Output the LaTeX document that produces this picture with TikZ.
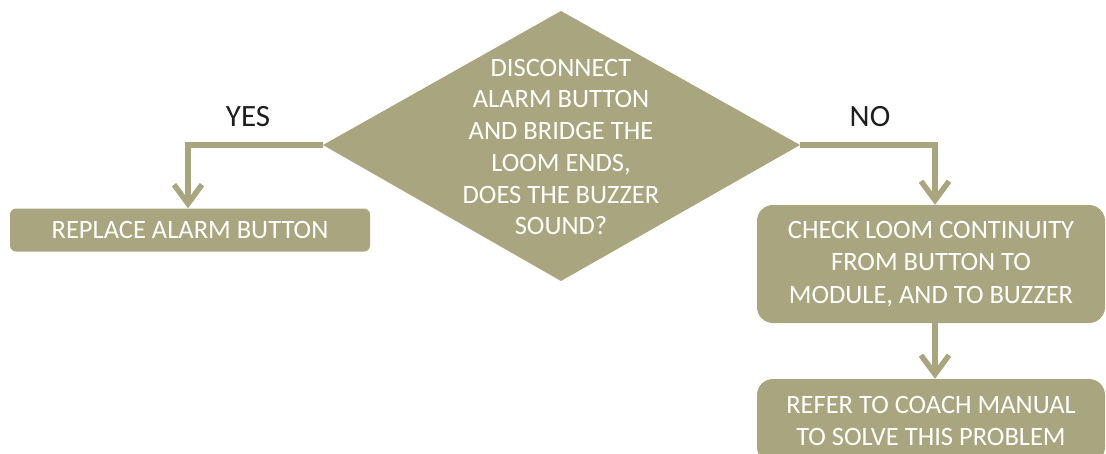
\documentclass[tikz,border=0pt]{standalone}
\usepackage{fontspec}
\setmainfont{Carlito}
\usetikzlibrary{arrows.meta}
\definecolor{olivebox}{RGB}{169,165,126}
\definecolor{labeltext}{RGB}{30,30,30}
\begin{document}
\begin{tikzpicture}[x=1pt,y=-1pt,
  box/.style={fill=olivebox, text=white, align=center, inner sep=0pt,
              font=\fontsize{26.5}{32.3}\selectfont},
  smallbox/.style={box, rounded corners=6pt},
  bigbox/.style={box, rounded corners=16pt},
  qtext/.style={text=white, align=center, inner sep=0pt, font=\fontsize{26.5}{31.7}\selectfont},
  conn/.style={draw=olivebox, line width=5.5pt,
               -{Straight Barb[length=19pt,width=28pt,line width=5.5pt]}},
  lbl/.style={text=labeltext, inner sep=0pt, font=\fontsize{31}{34}\selectfont}]
\useasboundingbox (0,0) rectangle (1106,453);
\clip (0,0) rectangle (1106,453);
% decision diamond
\coordinate (dT) at (561,11);
\coordinate (dR) at (800,145);
\coordinate (dB) at (561,281);
\coordinate (dL) at (323,145);
\fill[olivebox] (dT) -- (dR) -- (dB) -- (dL) -- cycle;
\node[qtext] (q) at (561,147) {DISCONNECT\\ALARM BUTTON\\AND BRIDGE THE\\LOOM ENDS,\\DOES THE BUZZER\\SOUND?};
% boxes
\node[smallbox, minimum width=360pt, minimum height=43pt] (rep) at (190,230) {REPLACE ALARM BUTTON};
\node[bigbox, minimum width=348pt, minimum height=118pt] (chk) at (931,264) {CHECK LOOM CONTINUITY\\FROM BUTTON TO\\MODULE, AND TO BUZZER};
\node[bigbox, minimum width=348pt, minimum height=84pt] (ref) at (931,421) {REFER TO COACH MANUAL\\TO SOLVE THIS PROBLEM};
% labels
\node[lbl] (yes) at (248,117) {YES};
\node[lbl] (no) at (870,117) {NO};
% connectors
\draw[conn] (dL) -| ([xshift=-2pt]rep.north);
\draw[conn] (dR) -| ([xshift=4pt]chk.north);
\draw[conn] ([xshift=4pt]chk.south) -- ([xshift=4pt]ref.north);
\end{tikzpicture}
\end{document}
